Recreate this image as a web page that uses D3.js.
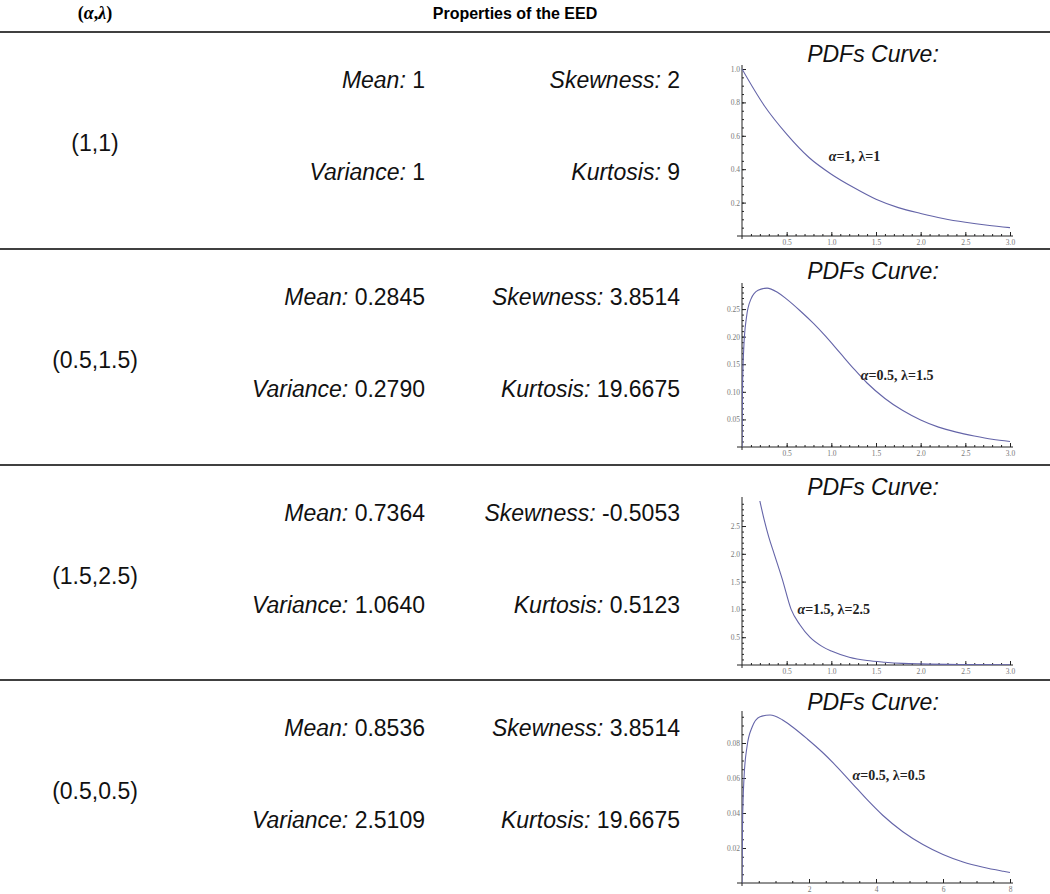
<!DOCTYPE html>
<html>
<head>
<meta charset="utf-8">
<script src="https://cdn.jsdelivr.net/npm/d3@7"></script>
<style>
  body { margin: 0; background: #fff; }
  svg { display: block; }
</style>
</head>
<body>
<div id="chart"></div>
<script>
// ---- table values ----
const paramLabels = ['(1,1)', '(0.5,1.5)', '(1.5,2.5)', '(0.5,0.5)']
const meanVals = ['1', '0.2845', '0.7364', '0.8536']
const varianceVals = ['1', '0.2790', '1.0640', '2.5109']
const skewnessVals = ['2', '3.8514', '-0.5053', '3.8514']
const kurtosisVals = ['9', '19.6675', '0.5123', '19.6675']
const curveAlpha = ['1', '0.5', '1.5', '0.5']
const curveLambda = ['1', '1.5', '2.5', '0.5']

// ---- curves ----
const curve1X = [0, 0.25, 0.5, 0.75, 1, 1.25, 1.5, 1.75, 2, 2.25, 2.5, 2.75, 3]
const curve1Y = [1, 0.78, 0.61, 0.47, 0.37, 0.29, 0.22, 0.17, 0.135, 0.105, 0.082, 0.064, 0.05]
const curve2X = [0, 0.005, 0.02, 0.05, 0.1, 0.18, 0.28, 0.4, 0.5, 0.65, 0.8, 0.94, 1.1, 1.25, 1.4, 1.6, 1.8, 2.0, 2.2, 2.4, 2.6, 2.8, 3.0]
const curve2Y = [0, 0.1, 0.18, 0.235, 0.268, 0.284, 0.288, 0.28, 0.268, 0.247, 0.224, 0.2, 0.17, 0.142, 0.116, 0.088, 0.066, 0.049, 0.036, 0.027, 0.02, 0.014, 0.01]
const curve3X = [0.2, 0.25, 0.3, 0.36, 0.45, 0.55, 0.65, 0.76, 0.9, 1.0, 1.2, 1.4, 1.6, 1.8, 2.0, 2.5, 3.0]
const curve3Y = [2.95, 2.6, 2.3, 2.0, 1.55, 1.0, 0.72, 0.5, 0.33, 0.25, 0.14, 0.08, 0.05, 0.03, 0.02, 0.008, 0.003]
const curve4X = [0, 0.015, 0.06, 0.15, 0.3, 0.54, 0.84, 1.2, 1.5, 1.95, 2.4, 2.82, 3.3, 3.75, 4.2, 4.8, 5.4, 6.0, 6.6, 7.2, 7.8, 8.0]
const curve4Y = [0, 0.033, 0.06, 0.078, 0.089, 0.095, 0.096, 0.0933, 0.0893, 0.0823, 0.0747, 0.0667, 0.0567, 0.0473, 0.0387, 0.0293, 0.022, 0.0163, 0.012, 0.009, 0.0067, 0.006]

// ---- tick labels ----
const xTicksShort = [0.5, 1.0, 1.5, 2.0, 2.5, 3.0]
const xTicksLong = [2, 4, 6, 8]
const yTicks1 = [0.2, 0.4, 0.6, 0.8, 1.0]
const yTicks2 = [0.05, 0.10, 0.15, 0.20, 0.25]
const yTicks3 = [0.5, 1.0, 1.5, 2.0, 2.5]
const yTicks4 = [0.02, 0.04, 0.06, 0.08]

const width = 1050
const height = 894
const rowTops = [32, 249, 465, 680]
const sans = 'Arial, "Liberation Sans", sans-serif'
const serif = '"Times New Roman", "Liberation Serif", serif'
const bodySize = '23px'

// panel layout (pixels) + what to draw in each
const panels = [
  { xs: curve1X, ys: curve1Y, xMax: 3, yMax: 1.0, bottom: 236, top: 69, xTicks: xTicksShort, xMinor: 0.1, yTicks: yTicks1, yMinor: 0.05, xFmt: '.1f', yFmt: '.1f', lx: 0.97, ly: 0.48 },
  { xs: curve2X, ys: curve2Y, xMax: 3, yMax: 0.29, bottom: 447, top: 287, xTicks: xTicksShort, xMinor: 0.1, yTicks: yTicks2, yMinor: 0.01, xFmt: '.1f', yFmt: '.2f', lx: 1.33, ly: 0.13 },
  { xs: curve3X, ys: curve3Y, xMax: 3, yMax: 2.95, bottom: 665, top: 501, xTicks: xTicksShort, xMinor: 0.1, yTicks: yTicks3, yMinor: 0.1, xFmt: '.1f', yFmt: '.1f', lx: 0.62, ly: 1.0 },
  { xs: curve4X, ys: curve4Y, xMax: 8, yMax: 0.096, bottom: 883, top: 715, xTicks: xTicksLong, xMinor: 0.5, yTicks: yTicks4, yMinor: 0.005, xFmt: 'd', yFmt: '.2f', lx: 3.3, ly: 0.062 }
]

const svg = d3.select('#chart')
  .append('svg')
  .attr('width', width)
  .attr('height', height)

// header
const head = svg.append('text')
  .attr('x', 95)
  .attr('y', 19)
  .attr('text-anchor', 'middle')
  .style('font-family', serif)
  .style('font-weight', 'bold')
  .style('font-size', '18px')
head.append('tspan').text('(')
head.append('tspan').style('font-style', 'italic').text('α')
head.append('tspan').text(',')
head.append('tspan').style('font-style', 'italic').text('λ')
head.append('tspan').text(')')

svg.append('text')
  .attr('x', 515)
  .attr('y', 19)
  .attr('text-anchor', 'middle')
  .style('font-family', sans)
  .style('font-weight', 'bold')
  .style('font-size', '16px')
  .text('Properties of the EED')

// horizontal rules
svg.selectAll('line.rule')
  .data(rowTops)
  .enter()
  .append('line')
  .attr('class', 'rule')
  .attr('x1', 0)
  .attr('x2', width)
  .attr('y1', d => d)
  .attr('y2', d => d)
  .attr('stroke', '#000')
  .attr('stroke-width', 1.3)

function statText (x, y, name, value) {
  const t = svg.append('text')
    .attr('x', x)
    .attr('y', y)
    .attr('text-anchor', 'end')
    .style('font-family', sans)
    .style('font-size', bodySize)
    .attr('fill', '#111')
  t.append('tspan').style('font-style', 'italic').text(name + ': ')
  t.append('tspan').text(value)
}

function drawPanel (p, i) {
  const x = d3.scaleLinear().domain([0, p.xMax]).range([742, 1010])
  const y = d3.scaleLinear().domain([0, p.yMax]).range([p.bottom, p.top])
  const g = svg.append('g')

  // axis lines
  g.append('line')
    .attr('x1', x(0) - 5).attr('x2', x(p.xMax) + 3)
    .attr('y1', y(0)).attr('y2', y(0))
    .attr('stroke', '#222').attr('stroke-width', 1)
  g.append('line')
    .attr('x1', x(0)).attr('x2', x(0))
    .attr('y1', y(0) + 3).attr('y2', p.top - 4)
    .attr('stroke', '#222').attr('stroke-width', 1)

  // minor ticks
  const xMinor = d3.range(p.xMinor, p.xMax + 1e-9, p.xMinor)
  const yMinor = d3.range(p.yMinor, p.yMax + 1e-9, p.yMinor)
  g.append('g')
    .attr('transform', 'translate(0,' + y(0) + ')')
    .call(d3.axisBottom(x).tickValues(xMinor).tickSize(-2).tickFormat(''))
    .call(s => s.select('.domain').remove())
  g.append('g')
    .attr('transform', 'translate(' + x(0) + ',0)')
    .call(d3.axisLeft(y).tickValues(yMinor).tickSize(-2).tickFormat(''))
    .call(s => s.select('.domain').remove())

  // major ticks + labels
  g.append('g')
    .attr('transform', 'translate(0,' + y(0) + ')')
    .call(d3.axisBottom(x).tickValues(p.xTicks).tickSizeInner(-4).tickSizeOuter(0).tickPadding(4).tickFormat(d3.format(p.xFmt)))
    .call(s => s.select('.domain').remove())
  g.append('g')
    .attr('transform', 'translate(' + x(0) + ',0)')
    .call(d3.axisLeft(y).tickValues(p.yTicks).tickSizeInner(-4).tickSizeOuter(0).tickPadding(2).tickFormat(d3.format(p.yFmt)))
    .call(s => s.select('.domain').remove())
  g.selectAll('.tick line').attr('stroke', '#222')
  g.selectAll('.tick text')
    .style('font-family', serif)
    .style('font-size', '7.5px')
    .attr('fill', '#777')

  // curve, clipped to plot area
  g.append('clipPath')
    .attr('id', 'clip' + i)
    .append('rect')
    .attr('x', x(0))
    .attr('y', p.top - 4)
    .attr('width', x(p.xMax) - x(0) + 2)
    .attr('height', y(0) - p.top + 4)
  const line = d3.line()
    .x((d, k) => x(p.xs[k]))
    .y(d => y(d))
    .curve(d3.curveMonotoneX)
  g.append('path')
    .attr('d', line(p.ys))
    .attr('clip-path', 'url(#clip' + i + ')')
    .attr('fill', 'none')
    .attr('stroke', '#6464a8')
    .attr('stroke-width', 1.1)

  // curve label
  const lab = g.append('text')
    .attr('x', x(p.lx))
    .attr('y', y(p.ly) + 5)
    .style('font-family', serif)
    .style('font-weight', 'bold')
    .style('font-size', '14px')
    .attr('fill', '#222')
  lab.append('tspan').style('font-style', 'italic').text('α')
  lab.append('tspan').text('=' + curveAlpha[i] + ', ')
  lab.append('tspan').text('λ')
  lab.append('tspan').text('=' + curveLambda[i])
}

rowTops.forEach((top, i) => {
  // parameter label
  svg.append('text')
    .attr('x', 95)
    .attr('y', top + 119)
    .attr('text-anchor', 'middle')
    .style('font-family', sans)
    .style('font-size', bodySize)
    .attr('fill', '#111')
    .text(paramLabels[i])

  statText(425, top + 56, 'Mean', meanVals[i])
  statText(425, top + 148, 'Variance', varianceVals[i])
  statText(680, top + 56, 'Skewness', skewnessVals[i])
  statText(680, top + 148, 'Kurtosis', kurtosisVals[i])

  svg.append('text')
    .attr('x', 873)
    .attr('y', top + 30)
    .attr('text-anchor', 'middle')
    .style('font-family', sans)
    .style('font-style', 'italic')
    .style('font-size', bodySize)
    .attr('fill', '#111')
    .text('PDFs Curve:')

  drawPanel(panels[i], i)
})
</script>
</body>
</html>
